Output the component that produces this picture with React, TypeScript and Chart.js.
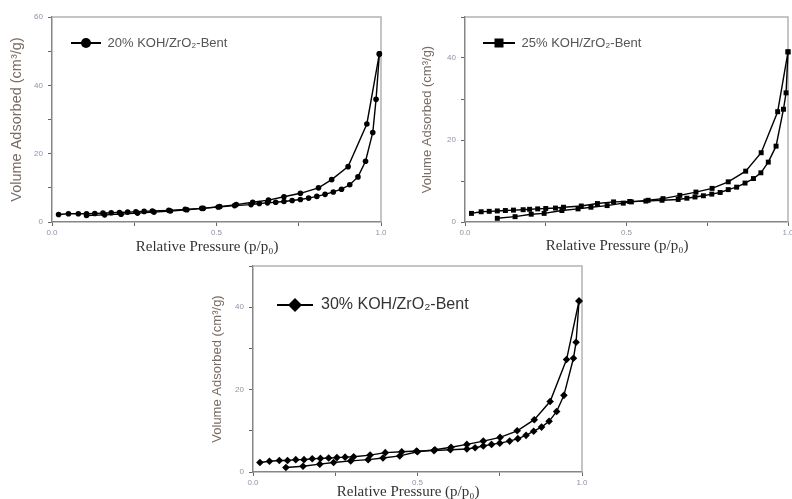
import React, { useEffect, useRef } from 'react';
import { Chart, registerables } from 'chart.js';

Chart.register(...registerables);

// ---------- DATA ----------
const xLabelValues = [0, 0.5, 1];
const yLabelStep = 20;

// 20% KOH/ZrO2-Bent
const p20Ads = [0.02, 0.05, 0.08, 0.105, 0.13, 0.155, 0.18, 0.205, 0.23, 0.255, 0.28, 0.305, 0.355, 0.405, 0.455, 0.505, 0.555, 0.605, 0.63, 0.655, 0.68, 0.705, 0.73, 0.755, 0.78, 0.805, 0.83, 0.855, 0.88, 0.905, 0.93, 0.953, 0.975, 0.985, 0.995];
const v20Ads = [2.2, 2.4, 2.4, 2.4, 2.5, 2.6, 2.7, 2.8, 2.9, 3.0, 3.1, 3.2, 3.4, 3.7, 4.0, 4.4, 4.8, 5.1, 5.4, 5.6, 5.8, 6.0, 6.3, 6.6, 7.0, 7.5, 8.1, 8.8, 9.6, 10.9, 13.2, 17.8, 26.2, 35.9, 49.2];
const p20Des = [0.995, 0.957, 0.9, 0.85, 0.81, 0.755, 0.705, 0.658, 0.61, 0.56, 0.51, 0.46, 0.41, 0.36, 0.31, 0.26, 0.21, 0.16, 0.105];
const v20Des = [49.2, 28.7, 16.2, 12.4, 10.0, 8.4, 7.4, 6.4, 5.8, 5.1, 4.5, 4.0, 3.6, 3.2, 2.9, 2.6, 2.3, 2.1, 1.9];

// 25% KOH/ZrO2-Bent
const p25Ads = [0.02, 0.05, 0.075, 0.1, 0.125, 0.15, 0.18, 0.2, 0.225, 0.25, 0.28, 0.305, 0.36, 0.41, 0.46, 0.51, 0.56, 0.61, 0.66, 0.687, 0.712, 0.738, 0.764, 0.79, 0.815, 0.841, 0.867, 0.893, 0.916, 0.939, 0.963, 0.986, 0.994, 1.0];
const v25Ads = [2.1, 2.5, 2.6, 2.7, 2.8, 2.9, 3.0, 3.1, 3.2, 3.3, 3.4, 3.6, 3.9, 4.5, 4.9, 5.0, 5.1, 5.3, 5.5, 5.8, 6.1, 6.4, 6.8, 7.2, 7.9, 8.5, 9.5, 10.6, 12.0, 14.6, 18.5, 27.5, 31.5, 41.5];
const p25Des = [1.0, 0.968, 0.917, 0.869, 0.815, 0.765, 0.715, 0.665, 0.613, 0.567, 0.515, 0.49, 0.44, 0.39, 0.35, 0.3, 0.245, 0.205, 0.155, 0.1];
const v25Des = [41.5, 26.9, 16.9, 12.4, 9.8, 8.2, 7.3, 6.5, 5.7, 5.3, 4.9, 4.6, 4.0, 3.6, 3.2, 2.8, 2.1, 1.9, 1.3, 0.9];

// 30% KOH/ZrO2-Bent
const p30Ads = [0.021, 0.05, 0.08, 0.105, 0.13, 0.155, 0.18, 0.205, 0.23, 0.255, 0.28, 0.306, 0.356, 0.402, 0.452, 0.497, 0.55, 0.6, 0.65, 0.675, 0.7, 0.725, 0.75, 0.78, 0.805, 0.83, 0.853, 0.877, 0.9, 0.923, 0.945, 0.974, 0.982, 0.991];
const v30Ads = [2.3, 2.6, 2.8, 2.8, 3.0, 3.0, 3.2, 3.3, 3.4, 3.5, 3.6, 3.7, 4.1, 4.7, 4.9, 5.1, 5.2, 5.4, 5.6, 5.9, 6.3, 6.7, 7.0, 7.5, 8.1, 8.9, 9.9, 10.9, 12.3, 14.7, 18.6, 27.6, 31.5, 41.5];
const p30Des = [0.991, 0.953, 0.903, 0.855, 0.803, 0.751, 0.7, 0.65, 0.602, 0.553, 0.5, 0.446, 0.395, 0.35, 0.297, 0.245, 0.203, 0.152, 0.1];
const v30Des = [41.5, 27.3, 17.1, 12.7, 10.0, 8.4, 7.5, 6.7, 6.0, 5.4, 4.9, 3.9, 3.4, 3.0, 2.7, 2.3, 1.9, 1.4, 1.1];

const label20 = '20% KOH/ZrO\u2082-Bent';
const label25 = '25% KOH/ZrO\u2082-Bent';
const label30 = '30% KOH/ZrO\u2082-Bent';
const yTitle = 'Volume Adsorbed (cm\u00B3/g)';
const xTitle = 'Relative Pressure (p/p\u2080)     ';

const zip = (xs: number[], ys: number[]) => xs.map((x, i) => ({ x, y: ys[i] }));

// ---------- PANEL LAYOUTS ----------
type PanelCfg = {
  left: number; top: number; w: number; h: number;
  padTop: number; padRight: number; yW: number; xH: number;
  yMax: number; style: string; radius: number;
  ads: { x: number; y: number }[]; des: { x: number; y: number }[];
  label: string; legendFont: number; legendPad: number; legendExtra: number; legendColor: string;
  iconW: number; iconH: number; iconSize: number;
  yTitleSize: number; yTitlePad: number; xTitlePad: number;
};

const panels: PanelCfg[] = [
  {
    left: 0, top: 0, w: 400, h: 262, padTop: 17, padRight: 19, yW: 52, xH: 40,
    yMax: 60, style: 'circle', radius: 2.8,
    ads: zip(p20Ads, v20Ads), des: zip(p20Des, v20Des),
    label: label20, legendFont: 13, legendPad: 19, legendExtra: 16.3, legendColor: '#555555',
    iconW: 30, iconH: 12, iconSize: 5,
    yTitleSize: 14.5, yTitlePad: 8, xTitlePad: 6,
  },
  {
    left: 400, top: 0, w: 400, h: 262, padTop: 17, padRight: 12, yW: 65, xH: 40,
    yMax: 50, style: 'rect', radius: 3.5,
    ads: zip(p25Ads, v25Ads), des: zip(p25Des, v25Des),
    label: label25, legendFont: 13, legendPad: 18, legendExtra: 17.3, legendColor: '#555555',
    iconW: 32, iconH: 12, iconSize: 4.5,
    yTitleSize: 13, yTitlePad: 20, xTitlePad: 7,
  },
  {
    left: 190, top: 250, w: 420, h: 262, padTop: 16, padRight: 28, yW: 63, xH: 40,
    yMax: 50, style: 'rectRot', radius: 3.8,
    ads: zip(p30Ads, v30Ads), des: zip(p30Des, v30Des),
    label: label30, legendFont: 16, legendPad: 24, legendExtra: 21.8, legendColor: '#333333',
    iconW: 36, iconH: 16, iconSize: 7,
    yTitleSize: 13, yTitlePad: 20, xTitlePad: 11,
  },
];

function makeIcon(style: string, w: number, h: number, s: number) {
  const c = document.createElement('canvas');
  c.width = w; c.height = h;
  const g = c.getContext('2d')!;
  g.strokeStyle = '#000'; g.lineWidth = 2;
  g.beginPath(); g.moveTo(0, h / 2); g.lineTo(w, h / 2); g.stroke();
  g.fillStyle = '#000';
  g.beginPath();
  const cx = w / 2, cy = h / 2;
  if (style === 'circle') g.arc(cx, cy, s, 0, Math.PI * 2);
  else if (style === 'rect') g.rect(cx - s, cy - s, 2 * s, 2 * s);
  else { g.moveTo(cx, cy - s); g.lineTo(cx + s, cy); g.lineTo(cx, cy + s); g.lineTo(cx - s, cy); g.closePath(); }
  g.fill();
  return c;
}

const framePlugin = {
  id: 'frame',
  beforeDatasetsDraw(chart: any) {
    const { ctx, chartArea } = chart;
    const { left, top, right, bottom } = chartArea;
    ctx.save();
    ctx.strokeStyle = '#b2b2b2';
    ctx.lineWidth = 1.5;
    ctx.beginPath();
    ctx.moveTo(left, top);
    ctx.lineTo(right, top);
    ctx.lineTo(right, bottom);
    ctx.stroke();
    ctx.restore();
  },
};

const tickColor = '#8c94a8';
const axisColor = '#858585';
const sans = "'Liberation Sans', Arial, sans-serif";
const serif = "'Liberation Serif', 'Times New Roman', serif";

function Panel({ cfg }: { cfg: PanelCfg }) {
  const ref = useRef<HTMLCanvasElement>(null);
  useEffect(() => {
    const icon = makeIcon(cfg.style, cfg.iconW, cfg.iconH, cfg.iconSize);
    const ds = (data: { x: number; y: number }[]) => ({
      data,
      showLine: true,
      borderColor: '#000',
      backgroundColor: '#000',
      borderWidth: 1.4,
      pointStyle: cfg.style,
      pointRadius: cfg.radius,
      pointBorderWidth: 0,
      tension: 0,
      clip: false as any,
    });
    const chart = new Chart(ref.current!, {
      type: 'scatter',
      data: { datasets: [ds(cfg.ads), ds(cfg.des)] as any },
      plugins: [framePlugin],
      options: {
        animation: false,
        responsive: false,
        devicePixelRatio: 1,
        layout: { padding: { top: cfg.padTop, right: cfg.padRight, left: 0, bottom: 0 } },
        plugins: {
          tooltip: { enabled: false },
          legend: {
            position: 'chartArea' as any,
            align: 'start',
            title: { display: true, text: '', font: { size: 1 }, padding: { top: cfg.legendExtra, bottom: 0 } },
            labels: {
              usePointStyle: true,
              pointStyleWidth: cfg.iconW,
              padding: cfg.legendPad,
              color: cfg.legendColor,
              font: { family: sans, size: cfg.legendFont },
              generateLabels: () => [{
                text: cfg.label,
                pointStyle: icon as any,
                fillStyle: '#000',
                strokeStyle: '#000',
                lineWidth: 0,
                hidden: false,
                datasetIndex: 0,
                fontColor: cfg.legendColor,
              } as any],
            },
          },
        },
        scales: {
          x: {
            type: 'linear',
            min: 0,
            max: 1,
            afterFit: (s: any) => { s.height = cfg.xH; },
            border: { display: true, color: axisColor, width: 1.5 },
            grid: { drawOnChartArea: false, drawTicks: true, tickLength: 4, color: '#666', lineWidth: 1 },
            ticks: {
              stepSize: 0.25,
              autoSkip: false,
              maxRotation: 0,
              padding: 2,
              color: tickColor,
              font: { family: sans, size: 8 },
              callback: (v: any) => (xLabelValues.some((l) => Math.abs(l - v) < 1e-6) ? Number(v).toFixed(1) : ''),
            },
            title: {
              display: true,
              text: xTitle,
              color: '#333',
              font: { family: serif, size: 15 },
              padding: { top: 0, bottom: cfg.xTitlePad },
            },
          },
          y: {
            type: 'linear',
            min: 0,
            max: cfg.yMax,
            afterFit: (s: any) => { s.width = cfg.yW; },
            border: { display: true, color: axisColor, width: 1.5 },
            grid: { drawOnChartArea: false, drawTicks: true, tickLength: 4, color: '#666', lineWidth: 1 },
            ticks: {
              stepSize: 10,
              autoSkip: false,
              padding: 5,
              color: tickColor,
              font: { family: sans, size: 8 },
              callback: (v: any) => (Number(v) % yLabelStep === 0 ? String(v) : ''),
            },
            title: {
              display: true,
              text: yTitle,
              color: '#7a6c63',
              font: { family: sans, size: cfg.yTitleSize },
              padding: { top: cfg.yTitlePad, bottom: 0 },
            },
          },
        },
      } as any,
    });
    return () => chart.destroy();
  }, [cfg]);
  return (
    <div style={{ position: 'absolute', left: cfg.left, top: cfg.top, width: cfg.w, height: cfg.h }}>
      <canvas ref={ref} width={cfg.w} height={cfg.h} style={{ display: 'block', width: cfg.w, height: cfg.h }} />
    </div>
  );
}

export default function App() {
  return (
    <div style={{ position: 'fixed', left: 0, top: 0, width: 792, height: 499, overflow: 'hidden', background: '#fff' }}>
      {panels.map((p, i) => <Panel key={i} cfg={p} />)}
    </div>
  );
}
